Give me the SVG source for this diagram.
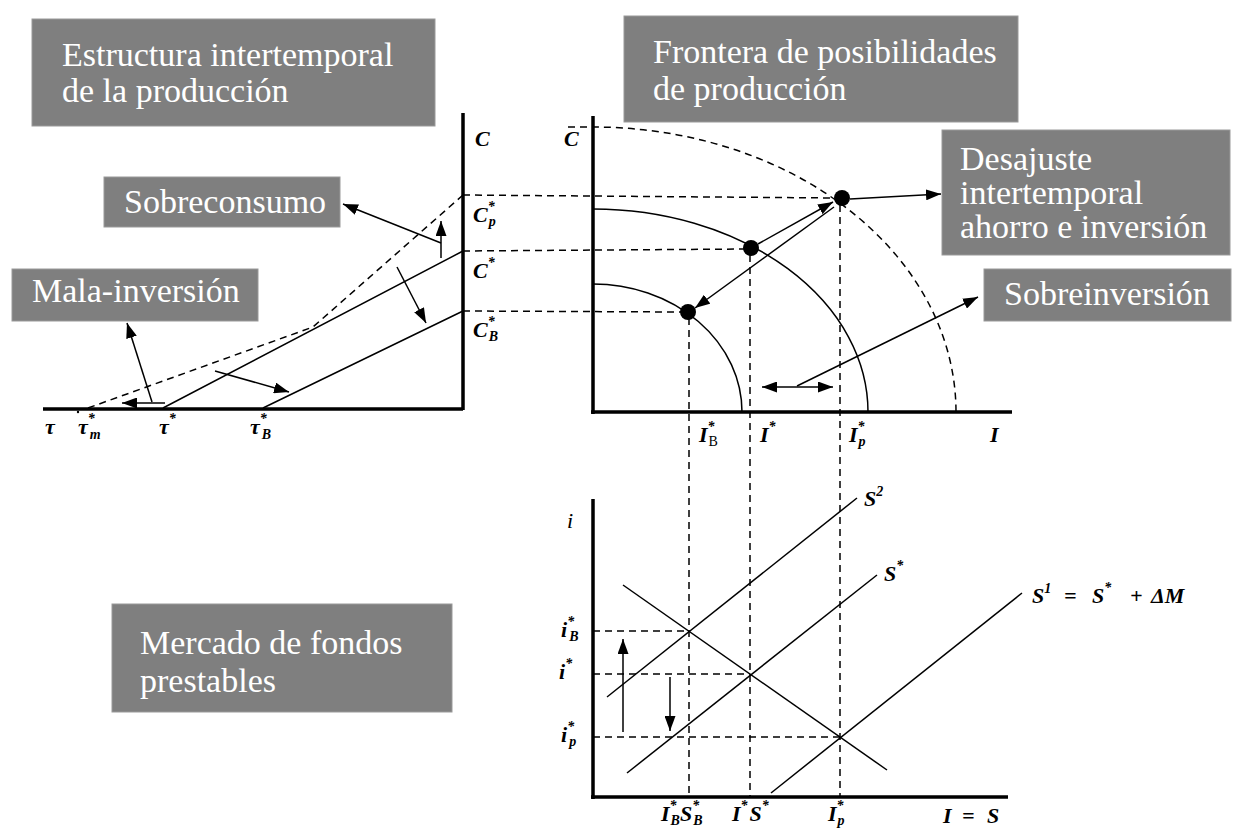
<svg xmlns="http://www.w3.org/2000/svg" width="1240" height="834" viewBox="0 0 1240 834">
<style>
.box{fill:#7f7f7f;stroke:#9a9a9a;stroke-width:1}
.bt{font-family:'Liberation Serif','Times New Roman',serif;font-size:34px;fill:#fff}
.ax{stroke:#000;stroke-width:3.5;fill:none}
.ln{stroke:#000;stroke-width:1.5;fill:none}
.ar{stroke:#000;stroke-width:1.5;fill:none;marker-end:url(#ah)}
.dash{stroke:#000;stroke-width:1.5;stroke-dasharray:7 5;fill:none}
.lab{font-family:'Liberation Serif','Times New Roman',serif;font-style:italic;font-weight:bold;font-size:22px;fill:#000}
.s{font-size:14px}
</style>
<defs>
<marker id="ah" viewBox="0 0 15 11" refX="15" refY="5.5" markerWidth="15" markerHeight="11" orient="auto-start-reverse" markerUnits="userSpaceOnUse"><path d="M0,0 L15,5.5 L0,11 z" fill="#000"/></marker>
</defs>

<g id="box-estructura"><rect class="box" x="32" y="19" width="403" height="107"/><text class="bt" x="62" y="66">Estructura intertemporal</text><text class="bt" x="62" y="102">de la producción</text></g>
<g id="box-frontera"><rect class="box" x="624" y="16" width="394" height="106"/><text class="bt" x="653" y="63">Frontera de posibilidades</text><text class="bt" x="653" y="100">de producción</text></g>
<g id="box-sobreconsumo"><rect class="box" x="104" y="177" width="236" height="50"/><text class="bt" x="124" y="213">Sobreconsumo</text></g>
<g id="box-mala"><rect class="box" x="12" y="269" width="246" height="52"/><text class="bt" x="32" y="302">Mala-inversión</text></g>
<g id="box-desajuste"><rect class="box" x="942" y="130" width="288" height="125"/><text class="bt" x="960" y="170">Desajuste</text><text class="bt" x="960" y="204">intertemporal</text><text class="bt" x="960" y="238">ahorro e inversión</text></g>
<g id="box-sobreinversion"><rect class="box" x="984" y="269" width="247" height="52"/><text class="bt" x="1004" y="305">Sobreinversión</text></g>
<g id="box-mercado"><rect class="box" x="112" y="604" width="340" height="108"/><text class="bt" x="140" y="654">Mercado de fondos</text><text class="bt" x="140" y="692">prestables</text></g>

<g id="left-graph">
<path class="ax" d="M463,113 V410 M43,409 H463"/>
<path class="ln" d="M163,408 L463,251 M263,408 L463,311"/>
<path class="dash" d="M88,408 L313,327 L463,195"/>
<circle cx="78" cy="412" r="1.2" fill="#000"/>
<text class="lab" x="475" y="146">C</text>
<text class="lab" x="473" y="222">C<tspan class="s" dy="-11">*</tspan><tspan class="s" dx="-6" dy="15">p</tspan></text>
<text class="lab" x="473" y="278">C<tspan class="s" dy="-11">*</tspan></text>
<text class="lab" x="473" y="337">C<tspan class="s" dy="-11">*</tspan><tspan class="s" dx="-6" dy="15">B</tspan></text>
<text class="lab" x="45" y="434">τ</text>
<text class="lab" x="78" y="434">τ<tspan class="s" dy="-11">*</tspan><tspan class="s" dx="-5" dy="16">m</tspan></text>
<text class="lab" x="159" y="434">τ<tspan class="s" dy="-11">*</tspan></text>
<text class="lab" x="250" y="434">τ<tspan class="s" dy="-11">*</tspan><tspan class="s" dx="-5" dy="16">B</tspan></text>
</g>

<g id="top-right-graph">
<path class="ax" d="M593,116 V414 M591,412 H1012"/>
<path class="dash" d="M568,127 H593 A363,285 0 0 1 956,412"/>
<path class="ln" d="M593,209 A275,203 0 0 1 868,412"/>
<path class="ln" d="M593,284 A149,128 0 0 1 742,412"/>
<circle cx="842" cy="198" r="8" fill="#000"/>
<circle cx="751" cy="248" r="8" fill="#000"/>
<circle cx="688" cy="312" r="8" fill="#000"/>
<text class="lab" x="564" y="146">C</text>
<text class="lab" x="699" y="442">I<tspan class="s" dy="-11">*</tspan><tspan class="s" dx="-6" dy="15" style="font-style:normal;font-weight:normal">B</tspan></text>
<text class="lab" x="760" y="442">I<tspan class="s" dy="-11">*</tspan></text>
<text class="lab" x="849" y="442">I<tspan class="s" dy="-11">*</tspan><tspan class="s" dx="-6" dy="15">p</tspan></text>
<text class="lab" x="990" y="442">I</text>
</g>

<g id="bottom-graph">
<path class="ax" d="M593,499 V799 M591,797 H1008"/>
<path class="ln" d="M623,585 L887,770"/>
<path class="ln" d="M607,697 L857,498"/>
<path class="ln" d="M627,773 L877,575"/>
<path class="ln" d="M771,793 L1022,593"/>
<text class="lab" x="567" y="528" style="font-weight:normal">i</text>
<text class="lab" x="561" y="637">i<tspan class="s" dy="-11">*</tspan><tspan class="s" dx="-5" dy="15">B</tspan></text>
<text class="lab" x="559" y="679">i<tspan class="s" dy="-11">*</tspan></text>
<text class="lab" x="561" y="742">i<tspan class="s" dy="-11">*</tspan><tspan class="s" dx="-5" dy="15">p</tspan></text>
<text class="lab" x="864" y="506">S<tspan class="s" dy="-10">2</tspan></text>
<text class="lab" x="884" y="581">S<tspan class="s" dy="-11">*</tspan></text>
<text class="lab" x="1032" y="603">S<tspan class="s" dy="-10">1</tspan><tspan x="1064" dy="10">=</tspan><tspan x="1092">S</tspan><tspan class="s" dy="-11">*</tspan><tspan x="1130" dy="11">+</tspan><tspan x="1151">ΔM</tspan></text>
<text class="lab" x="661" y="821">I<tspan class="s" dy="-11">*</tspan><tspan class="s" dx="-6" dy="15">B</tspan><tspan dy="-4">S</tspan><tspan class="s" dy="-11">*</tspan><tspan class="s" dx="-6" dy="15">B</tspan></text>
<text class="lab" x="732" y="821">I<tspan class="s" dy="-11">*</tspan><tspan dx="2" dy="11">S</tspan><tspan class="s" dy="-11">*</tspan></text>
<text class="lab" x="828" y="821">I<tspan class="s" dy="-11">*</tspan><tspan class="s" dx="-6" dy="15">p</tspan></text>
<text class="lab" x="943" y="823">I<tspan x="962">=</tspan><tspan x="987">S</tspan></text>
</g>

<g id="connectors">
<path class="dash" d="M463,195 L836,198"/>
<path class="dash" d="M463,251 L745,249"/>
<path class="dash" d="M463,311 L682,312"/>
<path class="dash" d="M840,205 V797"/>
<path class="dash" d="M750,255 V797"/>
<path class="dash" d="M689,318 V797"/>
<path class="dash" d="M593,631 H689"/>
<path class="dash" d="M593,674 H750"/>
<path class="dash" d="M593,737 H840"/>
<path class="ar" d="M441,243 L343,204"/>
<path class="ar" d="M441,258 V221"/>
<path class="ar" d="M397,267 L426,323"/>
<path class="ar" d="M215,371 L289,392"/>
<path class="ar" d="M152,402 L127,323"/>
<path class="ar" d="M165,403 H122"/>
<path class="ar" d="M758,244 L833,202"/>
<path class="ar" d="M834,207 L695,308"/>
<path class="ar" d="M850,199 L941,194"/>
<path class="ar" d="M797,386 L978,297"/>
<path class="ln" d="M762,387 H833" style="marker-start:url(#ah);marker-end:url(#ah)"/>
<path class="ar" d="M623,732 V639"/>
<path class="ar" d="M670,677 V731"/>
</g>
</svg>
